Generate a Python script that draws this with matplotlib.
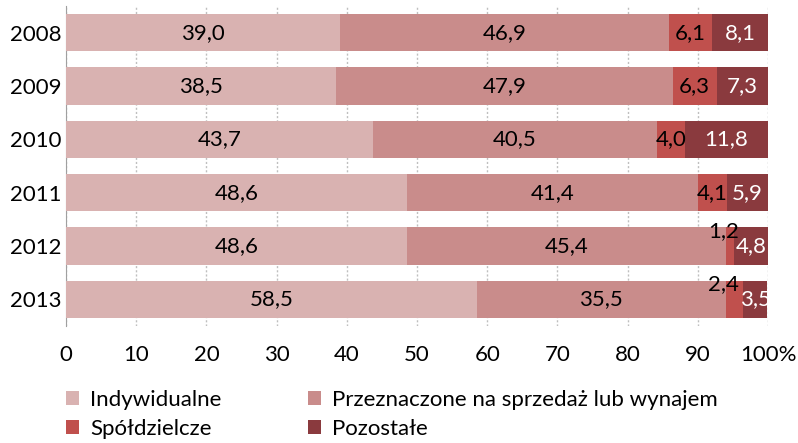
import matplotlib
matplotlib.use("Agg")
import matplotlib.pyplot as plt
import numpy as np

plt.rcParams['font.family'] = ['Lato', 'DejaVu Sans']

years = ['2008', '2009', '2010', '2011', '2012', '2013']
series_names = ['Indywidualne', 'Przeznaczone na sprzedaż lub wynajem',
                'Spółdzielcze', 'Pozostałe']
indyw = [39.0, 38.5, 43.7, 48.6, 48.6, 58.5]
sprzed = [46.9, 47.9, 40.5, 41.4, 45.4, 35.5]
spold = [6.1, 6.3, 4.0, 4.1, 1.2, 2.4]
pozost = [8.1, 7.3, 11.8, 5.9, 4.8, 3.5]
colors = ['#D9B2B1', '#C98C8B', '#C0504D', '#8A3A3E']
text_colors = ['black', 'black', 'black', 'white']

fig = plt.figure(figsize=(7.98, 4.43), dpi=100)
ax = fig.add_axes([66 / 798, 1 - 326 / 443, 702 / 798, 320 / 443])

y = np.arange(len(years))
left = np.zeros(len(years))
handles = []
for vals, name, col, tc in zip([indyw, sprzed, spold, pozost], series_names, colors, text_colors):
    vals = np.array(vals)
    h = ax.barh(y, vals, left=left, height=0.7, color=col, label=name, zorder=3)
    handles.append(h)
    for i, v in enumerate(vals):
        cx = left[i] + v / 2
        cy = y[i]
        if v < 3:
            # small segments: label pushed up like in Excel
            cx = left[i] - 0.3
            cy = y[i] - 0.28
        lbl = ('%.1f' % v).replace('.', ',')
        ax.text(cx, cy, lbl, ha='center', va='center', fontsize=16,
                color=tc if v >= 3 else 'black', zorder=4)
    left += vals

ax.set_xlim(0, 100)
ax.set_ylim(len(years) - 0.5, -0.5)
ax.set_yticks(y)
ax.set_yticklabels(years)
ticks = np.arange(0, 101, 10)
ax.set_xticks(ticks)
ax.set_xticklabels([str(t) for t in ticks[:-1]] + ['100%'])
ax.tick_params(axis='both', labelsize=16, length=0)
ax.tick_params(axis='y', pad=3)
ax.tick_params(axis='x', pad=14)
ax.grid(axis='x', color='#BFBFBF', linestyle=(0, (1.5, 1.5)), linewidth=1, zorder=0)
for s in ['top', 'right', 'bottom']:
    ax.spines[s].set_visible(False)
ax.spines['left'].set_color('#A0A0A0')

leg_kw = dict(loc='upper left', fontsize=16, frameon=False, handlelength=0.6,
              handleheight=0.6, handletextpad=0.5, labelspacing=0.4,
              borderpad=0, borderaxespad=0)
leg1 = fig.legend([handles[0], handles[2]], [series_names[0], series_names[2]],
                  bbox_to_anchor=(66 / 798, 1 - 390 / 443), **leg_kw)
leg2 = fig.legend([handles[1], handles[3]], [series_names[1], series_names[3]],
                  bbox_to_anchor=(308 / 798, 1 - 390 / 443), **leg_kw)
fig.savefig('out.png', dpi=100)
